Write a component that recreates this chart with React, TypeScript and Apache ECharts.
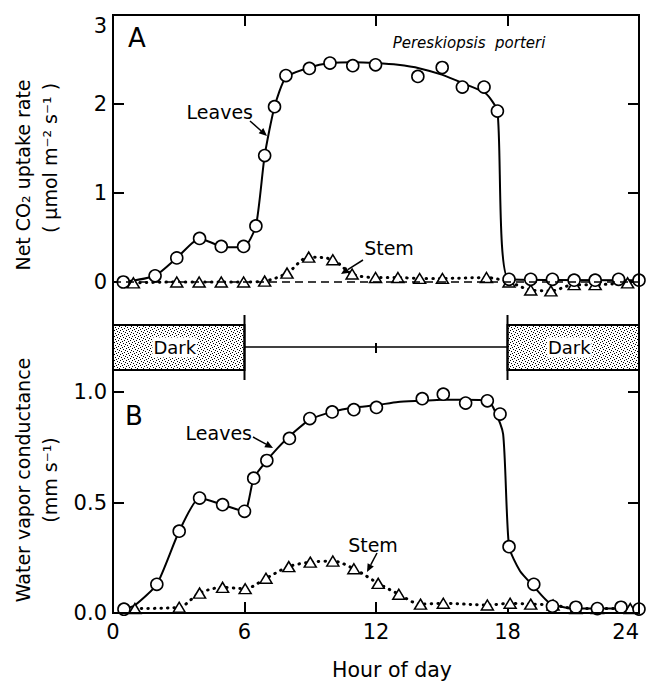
import React, { useEffect, useRef } from "react";
import * as echarts from "echarts";

// ---------- data ----------
const hourTicks = [0, 6, 12, 18, 24];
const co2Ticks = [0, 1, 2, 3];
const condTicks = [0, 0.5, 1.0];

// Panel A: net CO2 uptake (µmol m-2 s-1)
const leavesCO2Points = [
  [0.47, 0.0], [1.92, 0.07], [2.91, 0.27], [3.95, 0.49], [4.94, 0.4], [5.96, 0.4],
  [6.52, 0.63], [6.92, 1.42], [7.37, 1.97], [7.89, 2.32], [8.96, 2.4], [9.9, 2.46],
  [10.94, 2.43], [11.98, 2.44], [13.91, 2.31], [15.02, 2.41], [15.94, 2.19], [16.93, 2.19],
  [17.54, 1.92], [18.07, 0.03], [19.06, 0.03], [20.05, 0.03], [21.04, 0.02], [22.0, 0.02],
  [23.07, 0.03], [24.0, 0.02],
];
const leavesCO2Curve = [
  [0.47, 0.0], [1.92, 0.07], [2.91, 0.27], [3.95, 0.49], [4.94, 0.4], [5.96, 0.39],
  [6.52, 0.63], [6.92, 1.42], [7.37, 1.97], [7.89, 2.3], [8.96, 2.41], [9.9, 2.46],
  [11, 2.47], [12, 2.46], [13, 2.44], [14, 2.4], [15, 2.33], [16, 2.23], [17, 2.12],
  [17.54, 1.92], [18.07, 0.03], [24, 0.02],
];
const stemCO2 = [
  [0.93, -0.01], [2.91, 0.0], [3.93, 0.0], [4.94, 0.0], [5.96, 0.0], [6.92, 0.01],
  [7.94, 0.1], [8.93, 0.28], [10.03, 0.25], [10.91, 0.09], [11.98, 0.05], [13.0, 0.05],
  [13.99, 0.04], [15.03, 0.04], [17.04, 0.05], [18.07, 0.0], [19.06, -0.09], [19.98, -0.1],
  [21.04, -0.03], [22.0, -0.03], [23.48, -0.01],
];

// Panel B: water vapor conductance (mm s-1)
const leavesCondPoints = [
  [0.5, 0.017], [2.0, 0.13], [3.02, 0.37], [3.95, 0.52], [5.0, 0.49], [6.0, 0.46],
  [6.42, 0.61], [7.02, 0.69], [8.05, 0.79], [8.98, 0.88], [10.0, 0.91], [10.99, 0.92],
  [12.02, 0.93], [14.11, 0.97], [15.07, 0.99], [16.09, 0.95], [17.08, 0.96], [17.66, 0.9],
  [18.07, 0.3], [19.2, 0.13], [20.05, 0.03], [21.12, 0.026], [22.1, 0.02], [23.18, 0.026],
  [24.0, 0.018],
];
const leavesCondCurve = [
  [0.5, 0.017], [1, 0.035], [2.0, 0.13], [3.02, 0.37], [3.95, 0.52], [5.0, 0.49], [6.0, 0.46],
  [6.42, 0.61], [7.02, 0.69], [7.5, 0.745], [8.05, 0.8], [8.98, 0.875], [10, 0.91], [11, 0.93],
  [12, 0.94], [13, 0.955], [14.1, 0.96], [15, 0.965], [16, 0.965], [17.08, 0.96], [17.35, 0.93],
  [17.8, 0.81], [18.07, 0.3], [18.57, 0.19], [19.2, 0.12], [19.94, 0.044], [21, 0.02], [24, 0.02],
];
const stemCond = [
  [1.0, 0.02], [3.02, 0.026], [3.95, 0.09], [5.0, 0.116], [6.03, 0.11], [6.98, 0.157],
  [8.02, 0.21], [9.0, 0.23], [10.03, 0.235], [10.99, 0.2], [12.1, 0.134], [13.04, 0.085],
  [14.03, 0.04], [15.07, 0.044], [17.08, 0.036], [18.12, 0.044], [19.06, 0.04], [20.08, 0.036],
  [21.12, 0.02], [22.1, 0.02], [23.6, 0.02],
];

// Photoperiod (hours)
const darkPeriods = [[0, 6], [18, 24]];
const lightPeriod = [[6, 18]];

// ---------- layout / style ----------
const FONT = '"DejaVu Sans", "Liberation Sans", Arial, sans-serif';
const PLOT_LEFT = 113;
const PLOT_WIDTH = 526;
const A_TOP = 15;
const A_H = 267;
const BAND_H = 110;
const B_H = 221;
const BAND_TOP = A_TOP + A_H;
const B_TOP = BAND_TOP + BAND_H;

function makeStipple() {
  const c = document.createElement("canvas");
  c.width = 6;
  c.height = 6;
  const g = c.getContext("2d")!;
  g.fillStyle = "#fff";
  g.fillRect(0, 0, 6, 6);
  g.fillStyle = "#000";
  [[0, 0], [3, 1], [1, 3], [4, 4], [2, 5], [5, 2]].forEach(([x, y]) => g.fillRect(x, y, 1, 1));
  return { image: c, repeat: "repeat", imageWidth: 6, imageHeight: 6 };
}

function arrow(x1: number, y1: number, x2: number, y2: number) {
  const dx = x2 - x1;
  const dy = y2 - y1;
  const len = Math.sqrt(dx * dx + dy * dy);
  const ux = dx / len;
  const uy = dy / len;
  const hl = 8;
  const hw = 3.5;
  const bx = x2 - ux * hl;
  const by = y2 - uy * hl;
  return {
    type: "group",
    children: [
      { type: "line", shape: { x1, y1, x2: bx, y2: by }, style: { stroke: "#000", lineWidth: 1.5 } },
      {
        type: "polygon",
        shape: { points: [[x2, y2], [bx - uy * hw, by + ux * hw], [bx + uy * hw, by - ux * hw]] },
        style: { fill: "#000" },
      },
    ],
  };
}

function txt(text: string, x: number, y: number, size: number, extra: any = {}) {
  return {
    type: "text",
    x,
    y,
    rotation: extra.rotation || 0,
    style: {
      text,
      fill: "#000",
      fontSize: size,
      fontFamily: FONT,
      fontStyle: extra.fontStyle || "normal",
      align: extra.align || "center",
      verticalAlign: "middle",
    },
  };
}

const tickStyle = { show: true, inside: true, length: 11, lineStyle: { color: "#000", width: 2 } };
const noLine = { show: false, onZero: false };

function buildOption() {
  const stipple = makeStipple();
  const circleStyle = { color: "#fff", borderColor: "#000", borderWidth: 1.6, opacity: 1 };
  const triStyle = { color: "#fff", borderColor: "#000", borderWidth: 1.5, opacity: 1 };
  const dotted = { color: "#000", width: 3, type: [0.5, 6], cap: "round" };

  return {
    animation: false,
    backgroundColor: "#fff",
    grid: [
      { left: PLOT_LEFT, top: A_TOP, width: PLOT_WIDTH, height: A_H, outerBoundsMode: "none" },
      { left: PLOT_LEFT, top: BAND_TOP, width: PLOT_WIDTH, height: BAND_H, outerBoundsMode: "none" },
      { left: PLOT_LEFT, top: B_TOP, width: PLOT_WIDTH, height: B_H, outerBoundsMode: "none" },
    ],
    xAxis: [
      {
        gridIndex: 0, type: "value", position: "top", min: hourTicks[0], max: hourTicks[hourTicks.length - 1],
        interval: 6, axisLine: noLine, axisTick: tickStyle, axisLabel: { show: false }, splitLine: { show: false },
      },
      { gridIndex: 1, type: "value", min: 0, max: 24, show: false },
      {
        gridIndex: 2, type: "value", position: "bottom", min: hourTicks[0], max: hourTicks[hourTicks.length - 1],
        interval: 6, axisLine: noLine, axisTick: tickStyle, splitLine: { show: false },
        axisLabel: { color: "#000", fontSize: 21, fontFamily: FONT, margin: 8, alignMaxLabel: "right" },
      },
    ],
    yAxis: [
      {
        gridIndex: 0, type: "value", min: co2Ticks[0], max: co2Ticks[co2Ticks.length - 1], interval: 1,
        axisLine: noLine, axisTick: tickStyle, splitLine: { show: false },
        axisLabel: { color: "#000", fontSize: 21, fontFamily: FONT, margin: 6, verticalAlignMaxLabel: "top" },
      },
      {
        gridIndex: 0, type: "value", position: "right", min: 0, max: 3, interval: 1,
        axisLine: noLine, axisTick: tickStyle, axisLabel: { show: false }, splitLine: { show: false },
      },
      { gridIndex: 1, type: "value", min: 0, max: 1, show: false },
      {
        gridIndex: 2, type: "value", min: condTicks[0], max: condTicks[condTicks.length - 1], interval: 0.5,
        axisLine: noLine, axisTick: tickStyle, splitLine: { show: false },
        axisLabel: { color: "#000", fontSize: 21, fontFamily: FONT, margin: 6, formatter: (v: number) => v.toFixed(1) },
      },
      {
        gridIndex: 2, type: "value", position: "right", min: 0, max: 1, interval: 0.5,
        axisLine: noLine, axisTick: tickStyle, axisLabel: { show: false }, splitLine: { show: false },
      },
    ],
    series: [
      // ---- panel A ----
      {
        type: "line", xAxisIndex: 0, yAxisIndex: 0, data: leavesCO2Curve, smooth: 0.2, showSymbol: false,
        lineStyle: { color: "#000", width: 2 }, clip: false, silent: true, z: 2,
      },
      {
        type: "line", xAxisIndex: 0, yAxisIndex: 0, data: stemCO2, smooth: 0.3, symbol: "triangle",
        symbolSize: [12, 10], itemStyle: triStyle, lineStyle: dotted, clip: false, silent: true, z: 3,
        markLine: {
          silent: true, symbol: ["none", "none"], label: { show: false },
          lineStyle: { color: "#000", width: 1.5, type: [8, 5] }, data: [{ yAxis: 0 }],
        },
      },
      {
        type: "scatter", xAxisIndex: 0, yAxisIndex: 0, data: leavesCO2Points, symbol: "circle", symbolSize: 12,
        itemStyle: circleStyle, clip: false, silent: true, z: 4,
      },
      // ---- photoperiod band ----
      {
        type: "custom", xAxisIndex: 1, yAxisIndex: 2, data: darkPeriods, silent: true, clip: false,
        renderItem: (params: any, api: any) => {
          const s = api.coord([api.value(0), 0.609]);
          const e = api.coord([api.value(1), 0.2]);
          return {
            type: "group",
            children: [
              {
                type: "rect",
                shape: { x: s[0], y: s[1], width: e[0] - s[0], height: e[1] - s[1] },
                style: { fill: stipple, stroke: "#000", lineWidth: 2 },
              },
              {
                type: "text",
                style: {
                  text: "Dark", x: (s[0] + e[0]) / 2 - 4, y: (s[1] + e[1]) / 2, align: "center", verticalAlign: "middle",
                  fontSize: 18, fontFamily: FONT, fill: "#000", backgroundColor: "#fff", padding: [1, 1],
                },
              },
            ],
          };
        },
      },
      {
        type: "custom", xAxisIndex: 1, yAxisIndex: 2, data: lightPeriod, silent: true, clip: false,
        renderItem: (params: any, api: any) => {
          const a = api.value(0);
          const b = api.value(1);
          const m = (a + b) / 2;
          const l1 = api.coord([a, 0.409]);
          const l2 = api.coord([b, 0.409]);
          const tTop = api.coord([a, 0.7])[1];
          const tBot = api.coord([a, 0.109])[1];
          const sTop = api.coord([m, 0.445]);
          const sBot = api.coord([m, 0.355]);
          const st = { stroke: "#000", lineWidth: 1.6 };
          return {
            type: "group",
            children: [
              { type: "line", shape: { x1: l1[0], y1: l1[1], x2: l2[0], y2: l2[1] }, style: st },
              { type: "line", shape: { x1: l1[0], y1: tTop, x2: l1[0], y2: tBot }, style: { stroke: "#000", lineWidth: 2 } },
              { type: "line", shape: { x1: l2[0], y1: tTop, x2: l2[0], y2: tBot }, style: { stroke: "#000", lineWidth: 2 } },
              { type: "line", shape: { x1: sTop[0], y1: sTop[1], x2: sBot[0], y2: sBot[1] }, style: { stroke: "#000", lineWidth: 2 } },
            ],
          };
        },
      },
      // ---- panel B ----
      {
        type: "line", xAxisIndex: 2, yAxisIndex: 3, data: leavesCondCurve, smooth: 0.2, showSymbol: false,
        lineStyle: { color: "#000", width: 2 }, clip: false, silent: true, z: 2,
      },
      {
        type: "line", xAxisIndex: 2, yAxisIndex: 3, data: stemCond, smooth: 0.3, symbol: "triangle",
        symbolSize: [12, 10], itemStyle: triStyle, lineStyle: dotted, clip: false, silent: true, z: 3,
      },
      {
        type: "scatter", xAxisIndex: 2, yAxisIndex: 3, data: leavesCondPoints, symbol: "circle", symbolSize: 12,
        itemStyle: circleStyle, clip: false, silent: true, z: 4,
      },
    ],
    graphic: [
      {
        type: "rect", silent: true, z: 10,
        shape: { x: PLOT_LEFT, y: A_TOP, width: PLOT_WIDTH, height: A_H + BAND_H + B_H },
        style: { fill: "none", stroke: "#000", lineWidth: 2 },
      },
      txt("A", 137, 38, 26),
      txt("B", 134, 416, 26),
      txt("Pereskiopsis  porteri", 469, 43, 15, { fontStyle: "italic" }),
      txt("Leaves", 253, 112, 19, { align: "right" }),
      arrow(250, 121, 267, 136),
      txt("Stem", 389, 248, 19),
      arrow(363, 260, 341, 274),
      txt("Leaves", 252, 433, 19, { align: "right" }),
      arrow(253, 437, 273, 448),
      txt("Stem", 373, 545, 19),
      arrow(377, 553, 367, 572),
      txt("Net CO\u2082 uptake rate", 23, 175, 19, { rotation: Math.PI / 2 }),
      txt("( \u03bcmol m\u207b\u00b2 s\u207b\u00b9 )", 50, 158, 19, { rotation: Math.PI / 2 }),
      txt("Water vapor conductance", 23, 480, 19, { rotation: Math.PI / 2 }),
      txt("(mm s\u207b\u00b9)", 50, 480, 19, { rotation: Math.PI / 2 }),
      txt("Hour of day", 392, 670, 20.5),
    ],
  };
}

export default function App() {
  const ref = useRef<HTMLDivElement>(null);
  useEffect(() => {
    if (!ref.current) return;
    const chart = echarts.init(ref.current, null, { renderer: "svg" });
    chart.setOption(buildOption() as any);
    return () => chart.dispose();
  }, []);
  return (
    <div
      ref={ref}
      style={{ position: "fixed", left: 0, top: 0, width: 647, height: 684, background: "#fff" }}
    />
  );
}
